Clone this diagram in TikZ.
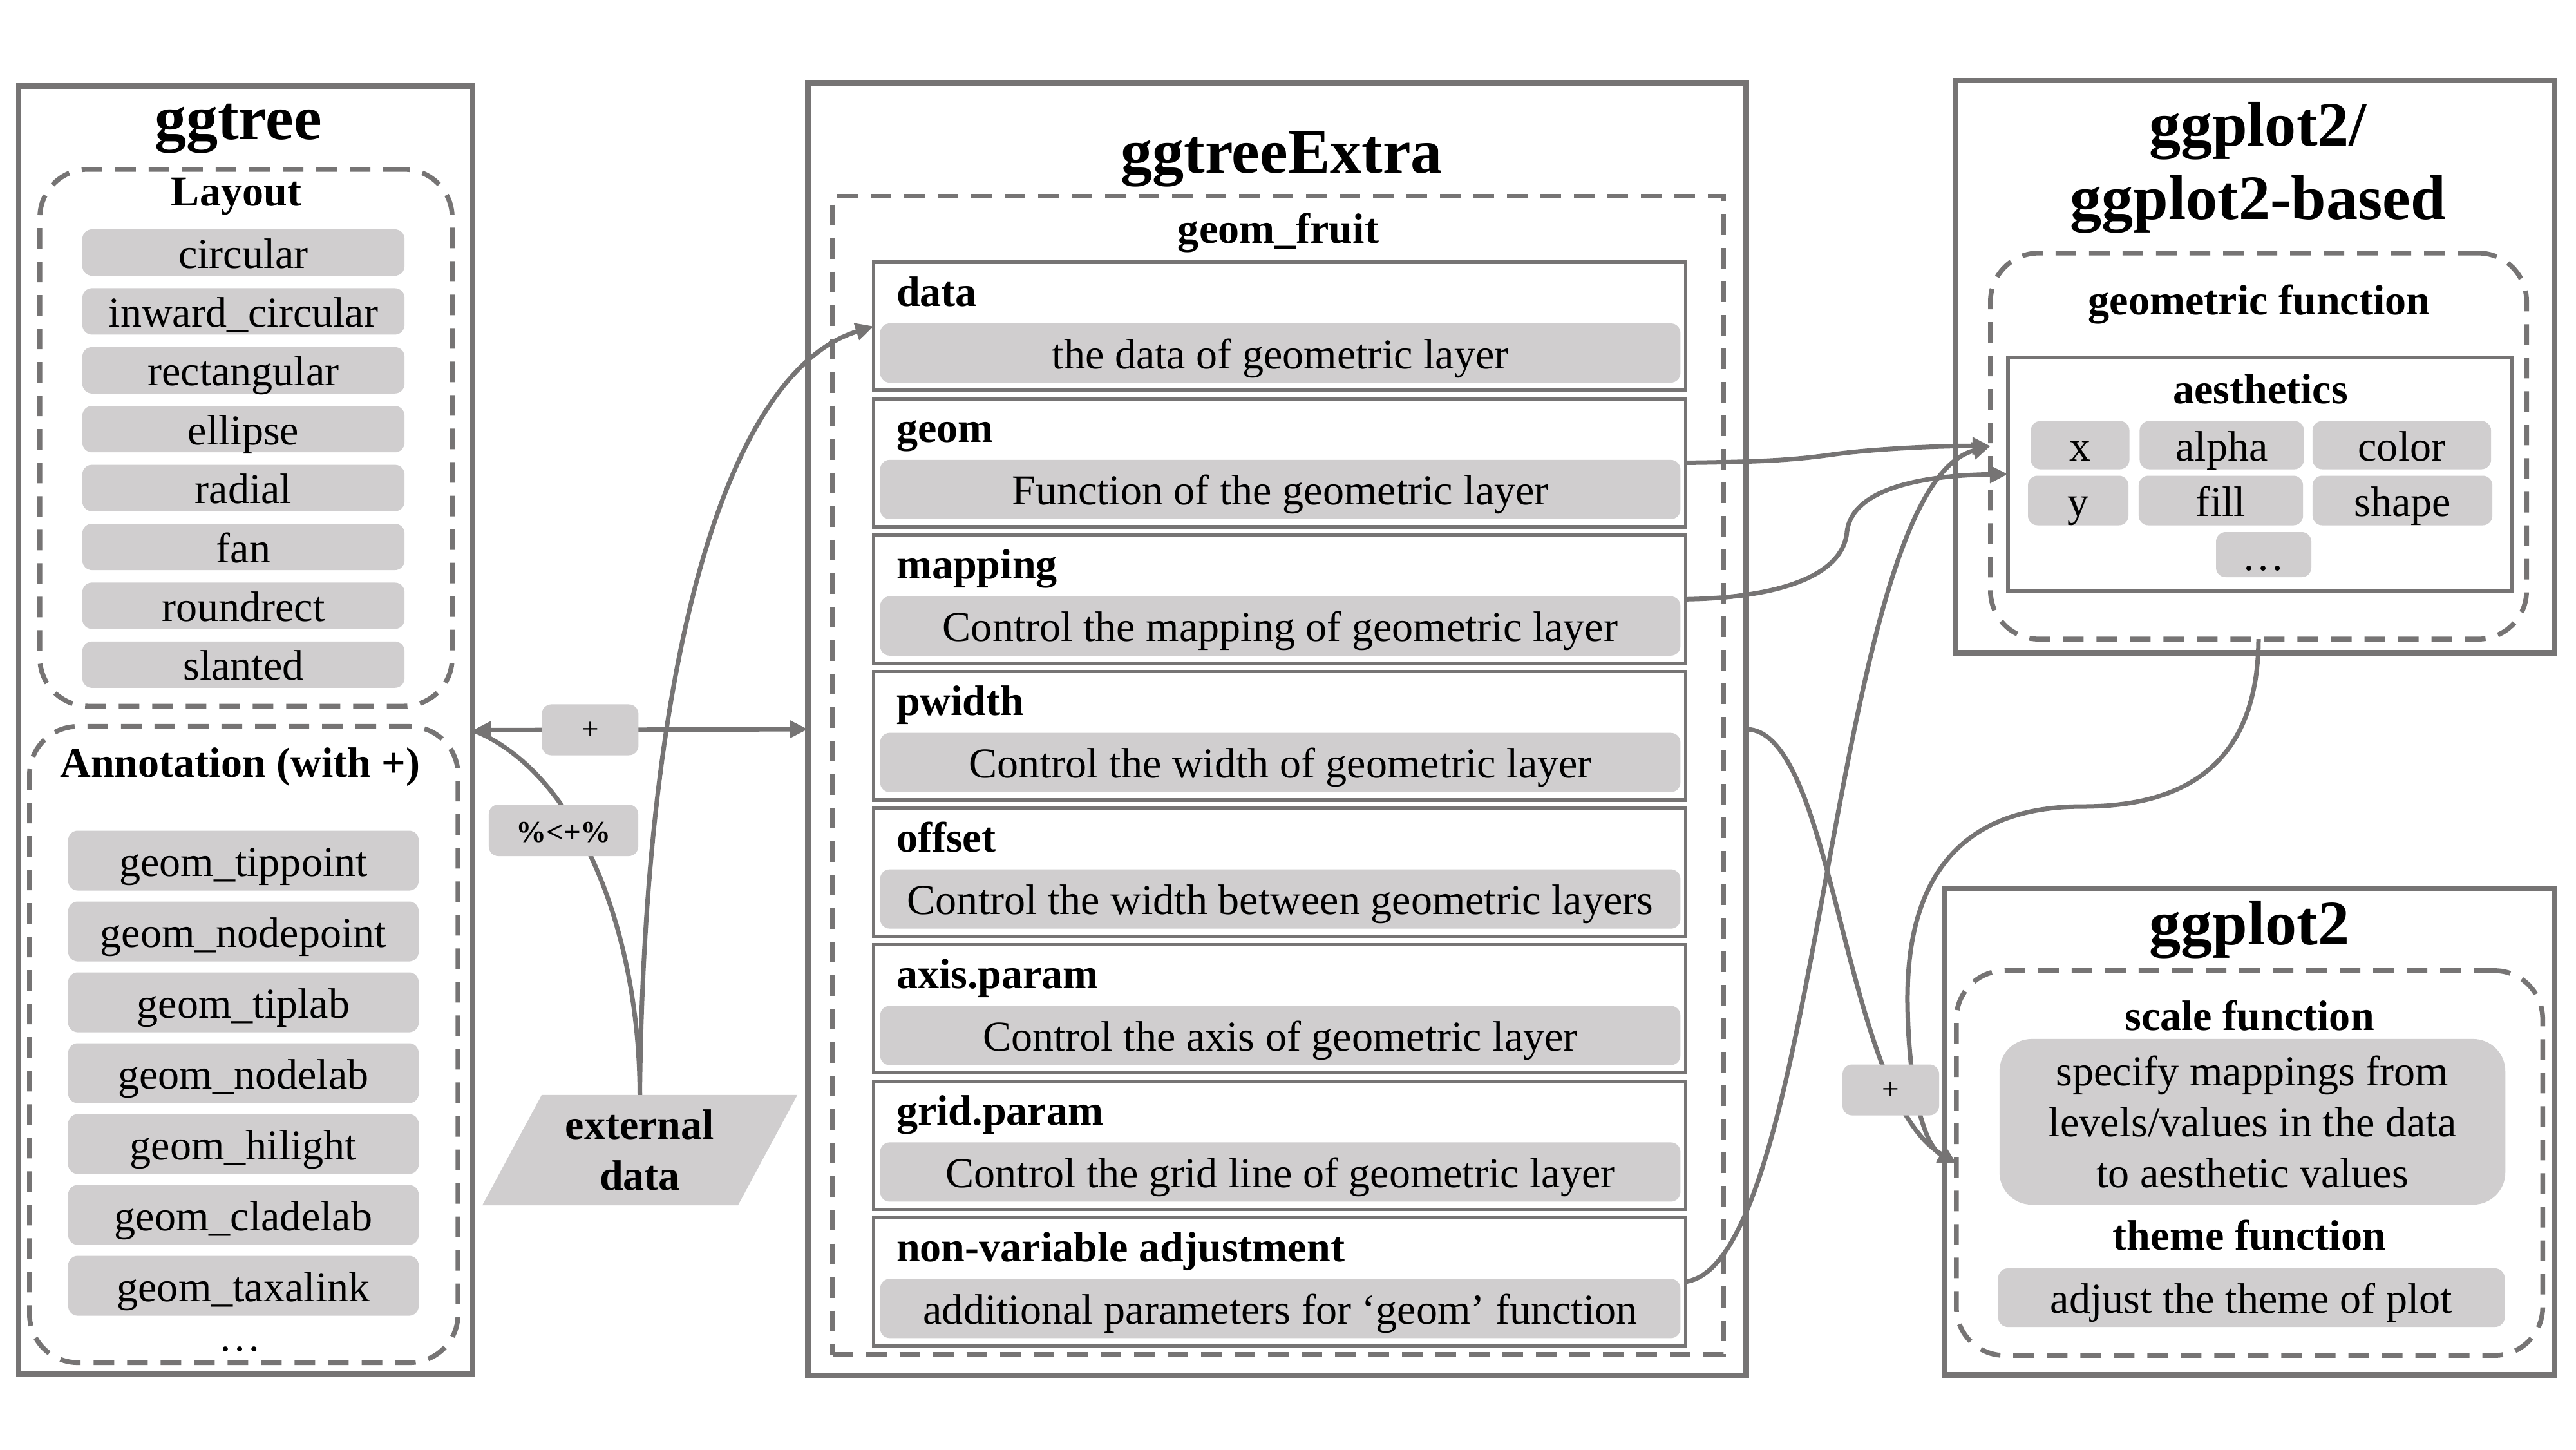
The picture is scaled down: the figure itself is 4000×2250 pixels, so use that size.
\documentclass[tikz,border=0pt]{standalone}
\usepackage{fontspec}
\setmainfont{Liberation Serif}
\usetikzlibrary{arrows.meta,shapes.geometric}
\definecolor{lc}{RGB}{118,116,116}
\definecolor{gf}{RGB}{208,206,207}
\newcommand\myTitle{\fontsize{27.9}{33}\selectfont\bfseries}
\newcommand\myBody{\fontsize{18.8}{22.6}\selectfont}
\newcommand\myBold{\fontsize{18.8}{22.6}\selectfont\bfseries}
\newcommand\mySmall{\fontsize{13.4}{16}\selectfont}
\tikzset{
  obox/.style={draw=lc, line width=0.085cm},
  dbox/.style={draw=lc, line width=0.075cm, dash pattern=on 0.32cm off 0.2cm, rounded corners=0.75cm},
  dsq/.style={draw=lc, line width=0.075cm, dash pattern=on 0.32cm off 0.2cm},
  wbox/.style={draw=lc, line width=0.055cm},
  gbox/.style={fill=gf, rounded corners=0.15cm, font=\myBody, text height=0.48cm, text depth=0pt},
  lbl/.style={fill=gf, rounded corners=0.15cm, font=\mySmall, text height=0.28cm, text depth=0pt, minimum width=1.5cm, minimum height=0.79cm},
  ttl/.style={font=\myTitle, anchor=base},
  hd/.style={font=\myBold, anchor=base},
  conn/.style={draw=lc, line width=0.07cm},
  arr/.style={-{Triangle[length=0.28cm,width=0.26cm]}},
}
\begin{document}
\begin{tikzpicture}[x=0.01cm,y=-0.01cm, every node/.append style={inner sep=0pt, outer sep=0pt}]
\useasboundingbox (0,0) rectangle (4000,2250);

% ---------------- ggtree ----------------
\node[obox, minimum width=7.05cm, minimum height=19.99cm] (ggtree) at (381.5,1133.5) {};
\node[ttl] (tggtree) at (370,216) {ggtree};
\node[dbox, minimum width=6.4cm, minimum height=8.33cm] (layout) at (382,679.5) {};
\node[hd] (tlayout) at (367,319) {Layout};
\foreach \t [count=\i from 0] in {circular,inward\_circular,rectangular,ellipse,radial,fan,roundrect,slanted}
  \node[gbox, minimum width=5cm, minimum height=0.72cm] (lay\i) at (378,392+91.4*\i) {\t};
\node[dbox, minimum width=6.65cm, minimum height=9.87cm] (annot) at (378.5,1621.5) {};
\node[hd] (tannot) at (373,1206) {Annotation (with +)};
\foreach \t [count=\i from 0] in {geom\_tippoint,geom\_nodepoint,geom\_tiplab,geom\_nodelab,geom\_hilight,geom\_cladelab,geom\_taxalink}
  \node[gbox, minimum width=5.44cm, minimum height=0.93cm] (ann\i) at (378,1336+110*\i) {\t};
\node[font=\myBody, anchor=base] (adots) at (373,2097) {…};

% ---------------- ggtreeExtra ----------------
\node[obox, minimum width=14.56cm, minimum height=20.06cm] (gte) at (1983,1132) {};
\node[ttl] (tgte) at (1990,268) {ggtreeExtra};
\node[dsq, minimum width=13.83cm, minimum height=17.97cm] (fruit) at (1984.5,1203.5) {};
\node[hd] (tfruit) at (1985,377) {geom\_fruit};
\foreach \n/\l/\d [count=\i from 0] in {
  pdata/data/{the data of geometric layer},
  pgeom/geom/{Function of the geometric layer},
  pmap/mapping/{Control the mapping of geometric layer},
  pwid/pwidth/{Control the width of geometric layer},
  poff/offset/{Control the width between geometric layers},
  paxis/axis.param/{Control the axis of geometric layer},
  pgrid/grid.param/{Control the grid line of geometric layer},
  pnon/non-variable adjustment/{additional parameters for ‘geom’ function}} {
  \pgfmathsetmacro\ptop{407+211.9*\i}
  \node[wbox, minimum width=12.6cm, minimum height=1.99cm] (\n) at (1987,\ptop+99.5) {};
  \node[hd, anchor=base west] (l\n) at (1392,\ptop+68) {\l};
  \node[gbox, minimum width=12.42cm, minimum height=0.92cm] (g\n) at (1988,\ptop+141) {\d};
}

% ---------------- external data ----------------
\node[trapezium, trapezium left angle=61, trapezium right angle=119, trapezium stretches=true,
      fill=gf, minimum width=4.89cm, minimum height=1.71cm, font=\myBold, align=center] (extd) at (993.5,1785.5) {external\\data};

% ---------------- ggplot2 / ggplot2-based ----------------
\node[obox, minimum width=9.3cm, minimum height=8.88cm] (ggb) at (3501,569) {};
\node[ttl] (tggb1) at (3506,226) {ggplot2/};
\node[ttl] (tggb2) at (3506,340) {ggplot2-based};
\node[dbox, minimum width=8.32cm, minimum height=5.99cm] (gfun) at (3507,692.5) {};
\node[hd] (tgfun) at (3508,488) {geometric function};
\node[wbox, minimum width=7.82cm, minimum height=3.62cm] (aes) at (3509,736) {};
\node[hd] (taes) at (3510,626) {aesthetics};
\node[gbox, minimum width=1.53cm, minimum height=0.75cm] (ax) at (3230,691) {x};
\node[gbox, minimum width=2.55cm, minimum height=0.75cm] (aalpha) at (3450,691) {alpha};
\node[gbox, minimum width=2.77cm, minimum height=0.75cm] (acolor) at (3729.5,691) {color};
\node[gbox, minimum width=1.56cm, minimum height=0.77cm] (ay) at (3227,777) {y};
\node[gbox, minimum width=2.55cm, minimum height=0.77cm] (afill) at (3448.5,777) {fill};
\node[gbox, minimum width=2.79cm, minimum height=0.77cm] (ashape) at (3730.5,777) {shape};
\node[gbox, minimum width=1.48cm, minimum height=0.70cm] (amore) at (3515,861) {…};

% ---------------- ggplot2 ----------------
\node[obox, minimum width=9.46cm, minimum height=7.55cm] (gg2) at (3493,1756.5) {};
\node[ttl] (tgg2) at (3493,1466) {ggplot2};
\node[dbox, minimum width=9.1cm, minimum height=5.97cm] (gg2d) at (3493,1805.5) {};
\node[hd] (tscale) at (3493,1599) {scale function};
\node[fill=gf, rounded corners=0.5cm, minimum width=7.85cm, minimum height=2.57cm, font=\myBody, align=center] (gscale) at (3497.5,1741.5) {specify mappings from\\levels/values in the data\\to aesthetic values};
\node[hd] (ttheme) at (3493,1940) {theme function};
\node[gbox, minimum width=7.86cm, minimum height=0.91cm] (gtheme) at (3496,2014.5) {adjust the theme of plot};

% ---------------- connectors ----------------
\draw[conn, {Triangle[length=0.28cm,width=0.26cm]}-{Triangle[length=0.28cm,width=0.26cm]}] (ggtree.east) -- node[lbl, pos=0.35] (plus1) {+} (gte.west);
\draw[conn] (extd.center |- extd.north) .. controls (993,1450) and (900,1200) .. (ggtree.east);
\draw[conn, arr] (extd.center |- extd.north) .. controls (1000,1050) and (1120,580) .. (pdata.west);

\draw[conn, arr] (pgeom.east) .. controls (2760,717) and (2800,712) .. (2850,705) .. controls (2900,698) and (3000,692) .. (gfun.west);
\draw[conn, arr] (pmap.east) .. controls (2760,928) and (2862,895) .. (2868,825) .. controls (2876,760) and (2980,738) .. (aes.west);
\draw[conn, arr] (pnon.east) .. controls (2830,1960) and (2840,760) .. (gfun.west);
\draw[conn, arr] (gte.east) .. controls (2850,1133) and (2860,1700) .. (gg2d.west);
\draw[conn, arr] (gfun.south) .. controls (3506,1180) and (3400,1252) .. (3234,1252) .. controls (3000,1252) and (2960,1420) .. (2962,1560) .. controls (2964,1700) and (2990,1780) .. (gg2d.west);

\node[lbl, minimum width=2.32cm, minimum height=0.8cm, font=\mySmall\bfseries, text height=0.36cm] (pct) at (875,1289) {\%<+\%};
\node[lbl] (plus2) at (2936,1692) {+};
\end{tikzpicture}
\end{document}
